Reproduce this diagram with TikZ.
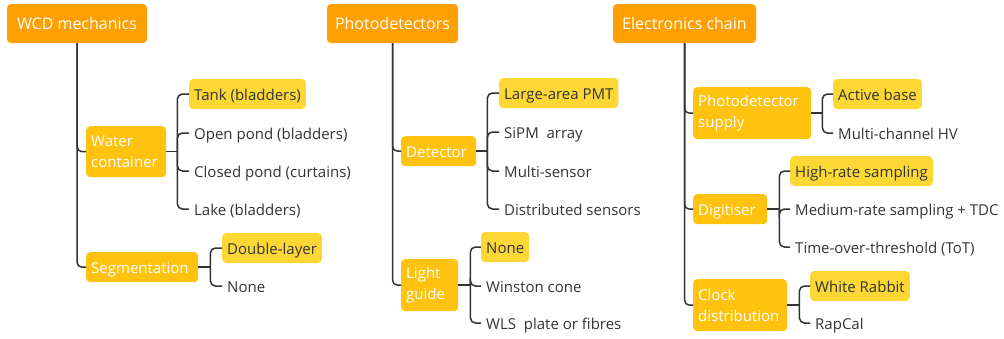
\documentclass[tikz,border=0pt]{standalone}
\usepackage{fontspec}
\setmainfont{Open Sans}
\definecolor{topc}{HTML}{FFA000}
\definecolor{midc}{HTML}{FFC20E}
\definecolor{hlc}{HTML}{FDD835}
\definecolor{linec}{HTML}{333333}
\definecolor{leaftext}{HTML}{333333}
\begin{document}
\begin{tikzpicture}[x=1pt,y=-1pt,
  topbox/.style={fill=topc,text=white,rounded corners=4pt,minimum height=39pt,inner sep=0pt,
    text height=12pt,text depth=0.4pt,font=\fontsize{16}{19}\selectfont},
  midbox/.style={fill=midc,text=white,rounded corners=4pt,anchor=north west,inner xsep=5pt,inner ysep=0pt,
    align=left,font=\fontsize{15}{21}\selectfont},
  oneline/.style={text height=13.2pt,text depth=0pt},
  leaf/.style={anchor=west,inner xsep=5pt,inner ysep=0pt,minimum height=30pt,text=leaftext,
    text height=13.4pt,text depth=0pt,font=\fontsize{15}{18}\selectfont},
  hl/.style={leaf,fill=hlc,rounded corners=4pt},
  conn/.style={draw=linec,line width=1.5pt,rounded corners=5pt}]
\useasboundingbox (0,0) rectangle (1004,338);

% top level
\node[topbox,minimum width=140pt] (wcd) at (77,23.5) {WCD mechanics};
\node[topbox,minimum width=131pt] (pd) at (392.5,23.5) {Photodetectors};
\node[topbox,minimum width=143pt] (ec) at (684.5,23.5) {Electronics chain};

% second level
\node[midbox,text width=70pt,minimum height=51pt] (water) at (86,126) {Water\\container};
\node[midbox,oneline,text width=102pt,minimum height=30pt] (seg) at (86,252) {Segmentation};
\node[midbox,oneline,text width=65pt,minimum height=30pt] (det) at (401,136) {Detector};
\node[midbox,text width=47pt,minimum height=52pt] (lg) at (401,259) {Light\\guide};
\node[midbox,text width=108pt,minimum height=52pt] (pds) at (693,87) {Photodetector\\supply};
\node[midbox,oneline,text width=64pt,minimum height=30pt] (dig) at (693,194) {Digitiser};
\node[midbox,text width=84pt,minimum height=52pt] (clk) at (693,279) {Clock\\distribution};

% leaves
\node[hl] (tank) at (189,94) {Tank (bladders)};
\node[leaf] (open) at (189,133) {Open pond (bladders)};
\node[leaf] (closed) at (189,171) {Closed pond (curtains)};
\node[leaf] (lake) at (189,209) {Lake (bladders)};
\node[hl] (dl) at (222,248) {Double-layer};
\node[leaf] (snone) at (222,286) {None};

\node[hl] (pmt) at (499,93) {Large-area PMT};
\node[leaf] (sipm) at (499,132) {SiPM\ \ array};
\node[leaf] (multi) at (499,171) {Multi-sensor};
\node[leaf] (dist) at (499,209) {Distributed sensors};
\node[hl] (lnone) at (481,247) {None};
\node[leaf] (winston) at (481,286) {Winston cone};
\node[leaf] (wls) at (481,323) {WLS\ \ plate or fibres};

\node[hl] (active) at (833,94) {Active base};
\node[leaf] (hv) at (833,133) {Multi-channel HV};
\node[hl] (high) at (790,171) {High-rate sampling};
\node[leaf] (medium) at (790,209) {Medium-rate sampling + TDC};
\node[leaf] (tot) at (790,247) {Time-over-threshold (ToT)};
\node[hl] (wr) at (810,286) {White Rabbit};
\node[leaf] (rapcal) at (810,323) {RapCal};

% junctions
\coordinate (jw) at ([xshift=11pt]water.east);
\coordinate (js) at ([xshift=12pt]seg.east);
\coordinate (jd) at ([xshift=11pt]det.east);
\coordinate (jl) at ([xshift=12pt]lg.east);
\coordinate (jp) at ([xshift=11pt]pds.east);
\coordinate (jg) at ([xshift=12pt]dig.east);
\coordinate (jc) at ([xshift=12pt]clk.east);

% connectors top -> mid
\draw[conn] (wcd.south) |- (water.west);
\draw[conn] (wcd.south) |- (seg.west);
\draw[conn] (pd.south) |- (det.west);
\draw[conn] (pd.south) |- (lg.west);
\draw[conn] (ec.south) |- (pds.west);
\draw[conn] (ec.south) |- (dig.west);
\draw[conn] (ec.south) |- (clk.west);

% connectors mid -> leaves
\draw[conn] (water.east) -- (jw);
\foreach \n in {tank,open,closed,lake} \draw[conn] (jw) |- (\n.west);
\draw[conn] (seg.east) -- (js);
\foreach \n in {dl,snone} \draw[conn] (js) |- (\n.west);
\draw[conn] (det.east) -- (jd);
\foreach \n in {pmt,sipm,multi,dist} \draw[conn] (jd) |- (\n.west);
\draw[conn] (lg.east) -- (jl);
\foreach \n in {lnone,winston,wls} \draw[conn] (jl) |- (\n.west);
\draw[conn] (pds.east) -- (jp);
\foreach \n in {active,hv} \draw[conn] (jp) |- (\n.west);
\draw[conn] (dig.east) -- (jg);
\foreach \n in {high,medium,tot} \draw[conn] (jg) |- (\n.west);
\draw[conn] (clk.east) -- (jc);
\foreach \n in {wr,rapcal} \draw[conn] (jc) |- (\n.west);
\end{tikzpicture}
\end{document}
